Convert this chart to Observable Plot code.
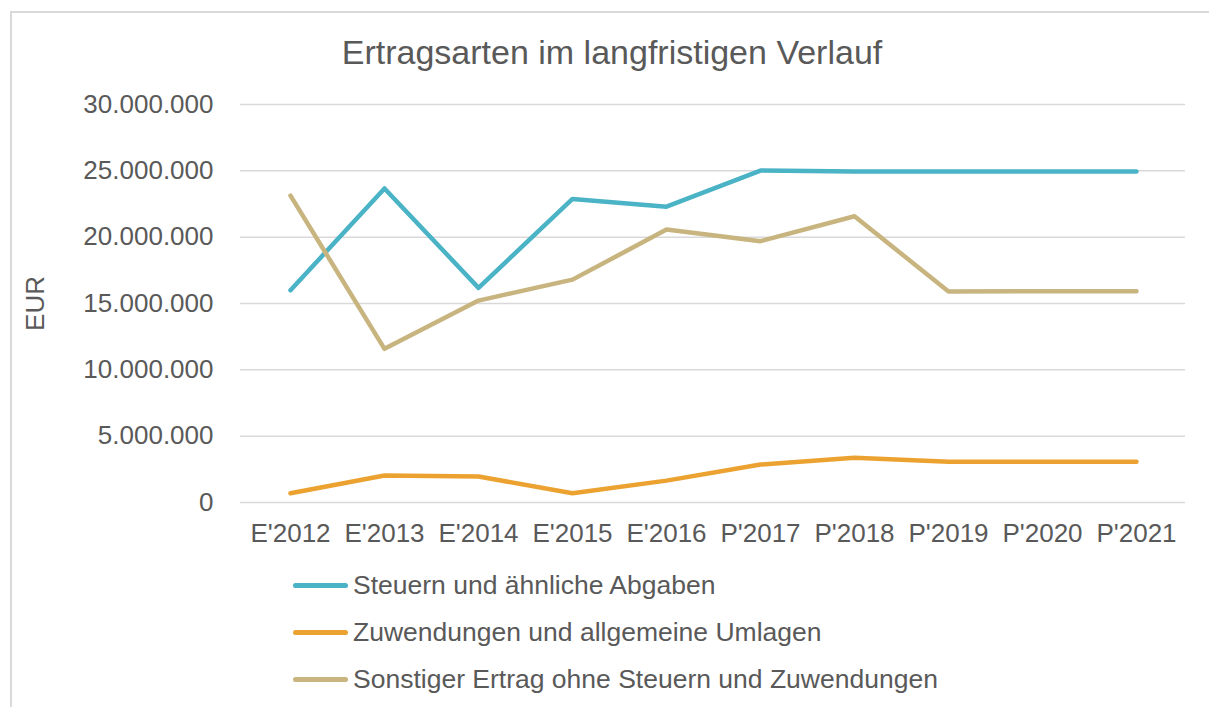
<!DOCTYPE html>
<html>
<head>
<meta charset="utf-8">
<script src="https://cdn.jsdelivr.net/npm/d3@7"></script>
<script src="https://cdn.jsdelivr.net/npm/@observablehq/plot@0.6"></script>
<style>
  html, body { margin: 0; padding: 0; background: #fff; }
  body { font-family: "Liberation Sans", Arial, sans-serif; color: #595959; }
  #wrap { position: relative; width: 1209px; height: 707px; overflow: hidden; }
  #frame { position: absolute; left: 10px; top: 11px; width: 1300px; height: 800px;
           border-left: 2px solid #d9d9d9; border-top: 2px solid #d9d9d9; box-sizing: border-box; }
  #title { position: absolute; left: 0; top: 34px; width: 1224px; text-align: center;
           font-size: 34px; line-height: 36px; color: #595959; }
  #chart { position: absolute; left: 0; top: 70px; }
  #legend { position: absolute; left: 293px; top: 562px; }
  .item { display: flex; align-items: center; height: 47px; font-size: 26.5px; color: #595959; }
  .sw { width: 55px; height: 5px; border-radius: 3px; margin-right: 5px; }
</style>
</head>
<body>
<div id="wrap">
  <div id="frame"></div>
  <div id="title">Ertragsarten im langfristigen Verlauf</div>
  <div id="chart"></div>
  <div id="legend"></div>
</div>
<script>
const categories = ["E'2012", "E'2013", "E'2014", "E'2015", "E'2016", "P'2017", "P'2018", "P'2019", "P'2020", "P'2021"];
const seriesNames = ["Steuern und ähnliche Abgaben", "Zuwendungen und allgemeine Umlagen", "Sonstiger Ertrag ohne Steuern und Zuwendungen"];
const seriesColors = ["#4BB3C6", "#EBA230", "#C8B47F"];
const steuern = [16000000, 23670000, 16180000, 22880000, 22300000, 25020000, 24950000, 24950000, 24950000, 24950000];
const zuwendungen = [700000, 2030000, 1960000, 700000, 1650000, 2860000, 3370000, 3070000, 3070000, 3070000];
const sonstiger = [23130000, 11580000, 15220000, 16800000, 20570000, 19700000, 21580000, 15900000, 15930000, 15930000];
const yTicks = [0, 5000000, 10000000, 15000000, 20000000, 25000000, 30000000];
const yLabel = "EUR";

const seriesValues = [steuern, zuwendungen, sonstiger];
const rows = [];
seriesNames.forEach((name, i) => {
  categories.forEach((c, j) => rows.push({series: name, cat: c, value: seriesValues[i][j]}));
});

const de = d3.formatLocale({decimal: ",", thousands: ".", grouping: [3], currency: ["", "€"]});
const fmt = de.format(",");

const chart = Plot.plot({
  width: 1209,
  height: 485,
  marginTop: 34,
  marginBottom: 53,
  marginLeft: 240,
  marginRight: 24,
  style: {fontFamily: "Liberation Sans, Arial, sans-serif", fontSize: "26px", color: "#595959", background: "transparent"},
  x: {type: "point", domain: categories, padding: 0.5, label: null, tickSize: 0, tickPadding: 21},
  y: {domain: [0, 30000000], ticks: yTicks, tickFormat: fmt, tickSize: 0, tickPadding: 27, label: null},
  color: {domain: seriesNames, range: seriesColors},
  marks: [
    Plot.gridY(yTicks, {stroke: "#d9d9d9", strokeOpacity: 1, strokeWidth: 1.5}),
    Plot.line(rows, {x: "cat", y: "value", z: "series", stroke: "series",
      strokeWidth: 4.5, strokeLinecap: "round", strokeLinejoin: "round"}),
    Plot.text([yLabel], {text: d => d, frameAnchor: "left", rotate: -90, dx: -205,
      textAnchor: "middle", lineAnchor: "middle", fill: "#595959", fontSize: 26})
  ]
});
document.getElementById("chart").appendChild(chart);

const legend = document.getElementById("legend");
seriesNames.forEach((name, i) => {
  const item = document.createElement("div");
  item.className = "item";
  const sw = document.createElement("span");
  sw.className = "sw";
  sw.style.background = seriesColors[i];
  const tx = document.createElement("span");
  tx.textContent = name;
  item.appendChild(sw);
  item.appendChild(tx);
  legend.appendChild(item);
});
</script>
</body>
</html>
